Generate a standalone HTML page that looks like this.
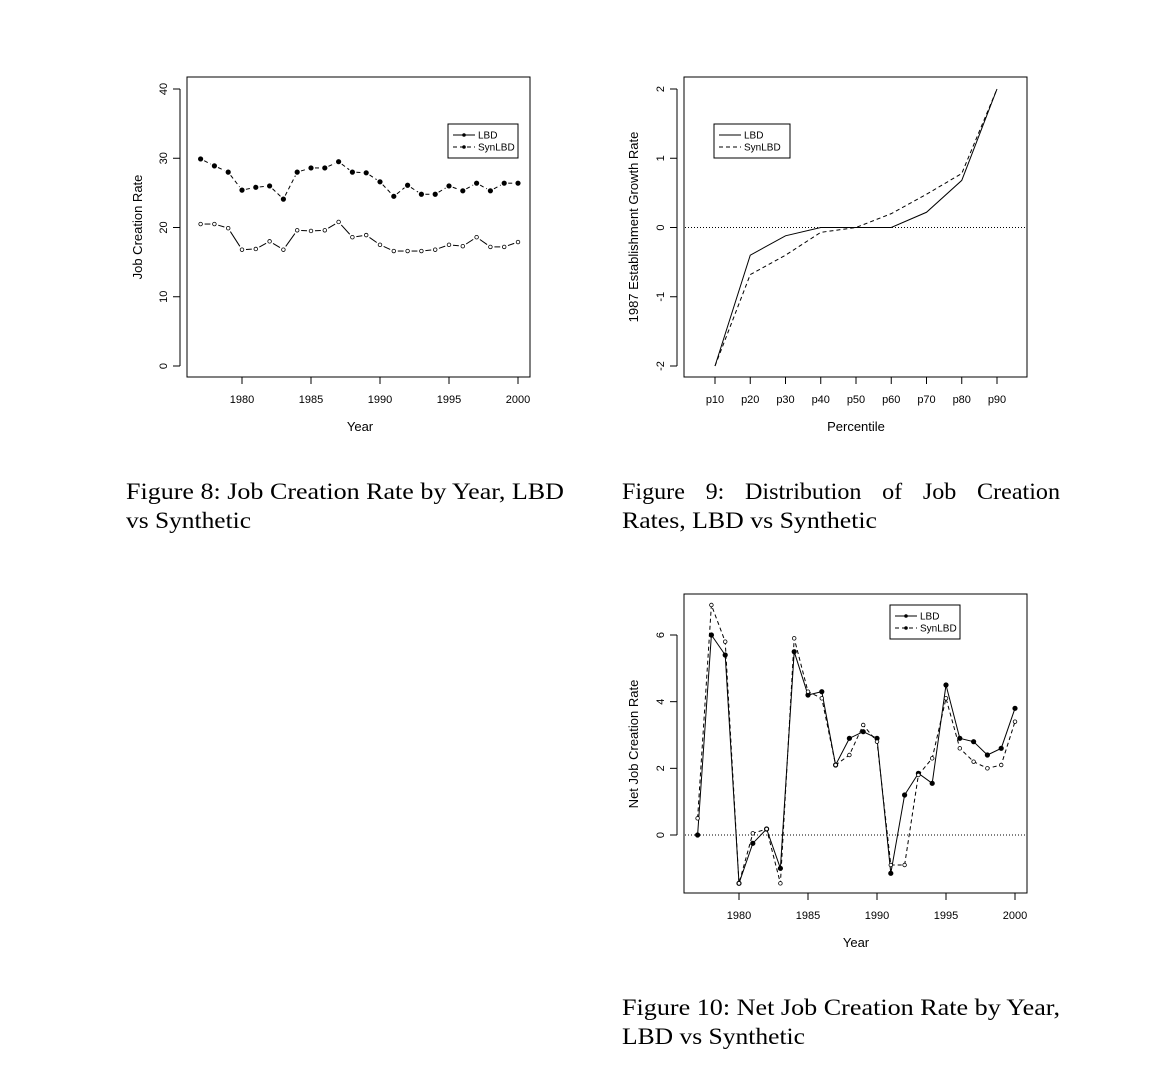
<!DOCTYPE html>
<html><head><meta charset="utf-8"><style>
html,body{margin:0;padding:0;background:#fff;}
svg{display:block;}
.cap{font-family:"Liberation Serif",serif;font-size:23px;fill:#000;}
.ax{font-family:"Liberation Sans",sans-serif;font-size:11px;fill:#000;}
.lab{font-family:"Liberation Sans",sans-serif;font-size:13px;fill:#000;}
</style></head><body>
<svg id="s" width="1164" height="1090" xmlns="http://www.w3.org/2000/svg">
<text class="cap" x="126" y="499" textLength="438" lengthAdjust="spacingAndGlyphs">Figure 8: Job Creation Rate by Year, LBD</text>
<text class="cap" x="126" y="528" textLength="125" lengthAdjust="spacingAndGlyphs">vs Synthetic</text>
<text class="cap" x="622" y="499" word-spacing="14" textLength="438" lengthAdjust="spacingAndGlyphs">Figure 9: Distribution of Job Creation</text>
<text class="cap" x="622" y="528" textLength="255" lengthAdjust="spacingAndGlyphs">Rates, LBD vs Synthetic</text>
<text class="cap" x="622" y="1015" textLength="438" lengthAdjust="spacingAndGlyphs">Figure 10: Net Job Creation Rate by Year,</text>
<text class="cap" x="622" y="1044" textLength="183" lengthAdjust="spacingAndGlyphs">LBD vs Synthetic</text>
</svg>
<script>
const years8 = [1977,1978,1979,1980,1981,1982,1983,1984,1985,1986,1987,1988,1989,1990,1991,1992,1993,1994,1995,1996,1997,1998,1999,2000];
const lbd8 = [29.9,28.9,28,25.4,25.8,26,24.1,28,28.6,28.6,29.5,28,27.9,26.6,24.5,26.1,24.8,24.8,26,25.3,26.4,25.3,26.4,26.4];
const syn8 = [20.5,20.5,19.9,16.8,16.9,18,16.8,19.6,19.5,19.6,20.8,18.6,18.9,17.5,16.6,16.6,16.6,16.8,17.5,17.3,18.6,17.2,17.2,17.9];
const yTicks8 = [0,10,20,30,40];
const xTicks8 = [1980,1985,1990,1995,2000];
const pct9 = ["p10","p20","p30","p40","p50","p60","p70","p80","p90"];
const lbd9 = [-2,-0.4,-0.12,0,0,0,0.22,0.68,2];
const syn9 = [-2,-0.68,-0.4,-0.07,0,0.2,0.48,0.78,2];
const yTicks9 = [-2,-1,0,1,2];
const years10 = years8;
const lbd10 = [0,6,5.4,-1.45,-0.25,0.18,-1.0,5.5,4.2,4.3,2.1,2.9,3.1,2.9,-1.15,1.2,1.85,1.55,4.5,2.9,2.8,2.4,2.6,3.8];
const syn10 = [0.5,6.9,5.8,-1.45,0.05,0.18,-1.45,5.9,4.3,4.1,2.1,2.4,3.3,2.8,-0.9,-0.9,1.8,2.3,4.1,2.6,2.2,2.0,2.1,3.4];
const yTicks10 = [0,2,4,6];

const NS="http://www.w3.org/2000/svg";
const svg=document.getElementById('s');
function mk(tag,attrs,parent){const e=document.createElementNS(NS,tag);for(const k in attrs)e.setAttribute(k,attrs[k]);(parent||svg).appendChild(e);return e;}
function lin(d0,d1,r0,r1){return v=>r0+(v-d0)*(r1-r0)/(d1-d0);}

function frame(g,x0,y0,x1,y1){
  const r=mk('rect',{x:x0,y:y0,width:x1-x0,height:y1-y0,fill:'none',stroke:'#000','stroke-width':1},g);
  
  
}
function yAxis(g,ticks,sy,x0,name){
  const ga=mk('g',{},g);
  
  
  mk('line',{x1:x0-7,x2:x0-7,y1:sy(ticks[0]),y2:sy(ticks[ticks.length-1]),stroke:'#000'},ga);
  ticks.forEach(t=>{
    mk('line',{x1:x0-7,x2:x0-14,y1:sy(t),y2:sy(t),stroke:'#000'},ga);
    const tx=mk('text',{class:'ax',x:x0-20,y:sy(t),'text-anchor':'middle',transform:`rotate(-90 ${x0-20} ${sy(t)})`},ga);
    tx.textContent=String(t);
    
    
  });
}
function xAxis(g,ticks,labels,sx,y1,name){
  const ga=mk('g',{},g);
  
  
  mk('line',{x1:sx(ticks[0]),x2:sx(ticks[ticks.length-1]),y1:y1,y2:y1,stroke:'#000'},ga);
  ticks.forEach((t,i)=>{
    mk('line',{x1:sx(t),x2:sx(t),y1:y1,y2:y1+7,stroke:'#000'},ga);
    const tx=mk('text',{class:'ax',x:sx(t),y:y1+26,'text-anchor':'middle'},ga);
    tx.textContent=labels[i];
    
    
  });
}
function labels(g,xl,xx,xy,yl,yx,yy){
  const a=mk('text',{class:'lab',x:xx,y:xy,'text-anchor':'middle'},g);a.textContent=xl;
  
  
  const b=mk('text',{class:'lab',x:yx,y:yy,'text-anchor':'middle',transform:`rotate(-90 ${yx} ${yy})`},g);b.textContent=yl;
  
  
}
function seriesB(g,xs,ys,sx,sy,dash,filled,name){
  const gs=mk('g',{},g);
  
  
  for(let i=0;i<xs.length-1;i++){
    const x1=sx(xs[i]),y1=sy(ys[i]),x2=sx(xs[i+1]),y2=sy(ys[i+1]);
    const dx=x2-x1,dy=y2-y1,L=Math.hypot(dx,dy),gap=4;
    if(L>2*gap){mk('line',{x1:x1+dx*gap/L,y1:y1+dy*gap/L,x2:x2-dx*gap/L,y2:y2-dy*gap/L,stroke:'#000','stroke-width':1,'stroke-dasharray':dash},gs);}
  }
  xs.forEach((x,i)=>{
    const c=mk('circle',{cx:sx(x),cy:sy(ys[i]),r:filled?2.2:1.8,fill:filled?'#000':'#fff',stroke:'#000','stroke-width':0.8},gs);
    
    
  });
}
function seriesL(g,xs,ys,sx,sy,dash,pts,filled,name){
  const gs=mk('g',{},g);
  
  
  mk('polyline',{points:xs.map((x,i)=>sx(x)+','+sy(ys[i])).join(' '),fill:'none',stroke:'#000','stroke-width':1,'stroke-dasharray':dash},gs);
  if(pts)xs.forEach((x,i)=>{
    const c=mk('circle',{cx:sx(x),cy:sy(ys[i]),r:filled?2.2:1.8,fill:filled?'#000':'#fff',stroke:'#000','stroke-width':0.8},gs);
    
    
  });
}
function legend(g,x,y,w,pts){
  const gl=mk('g',{},g);
  
  
  mk('rect',{x:x,y:y,width:w,height:34,fill:'#fff',stroke:'#000'},gl);
  [['LBD','none',true],['SynLBD','4,3',false]].forEach((e,i)=>{
    const yy=y+11+i*12;
    const ge=mk('g',{},gl);
    
    
    mk('line',{x1:x+5,x2:x+27,y1:yy,y2:yy,stroke:'#000','stroke-dasharray':e[1]},ge);
    if(pts)mk('circle',{cx:x+16,cy:yy,r:1.8,fill:'#000'},ge);
    const t=mk('text',{x:x+30,y:yy+3.5,'font-family':'Liberation Sans,sans-serif','font-size':'10px'},ge);t.textContent=e[0];
  });
}

{const g=mk('g',{});
 const sx=lin(1980,2000,242,518),sy=lin(0,40,366,89);
 frame(g,187,77,530,377);
 yAxis(g,yTicks8,sy,187,'y-axis');
 xAxis(g,xTicks8,xTicks8.map(String),sx,377,'x-axis');
 labels(g,'Year',360,431,'Job Creation Rate',142,227);
 seriesB(g,years8,lbd8,sx,sy,'4,3',true,'series-lbd');
 seriesB(g,years8,syn8,sx,sy,'none',false,'series-synlbd');
 legend(g,448,124,70,true);}
{const g=mk('g',{});
 const idx=pct9.map((p,i)=>i);
 const sx=lin(0,8,715,997),sy=lin(-2,2,366,89);
 frame(g,684,77,1027,377);
 yAxis(g,yTicks9,sy,684,'y-axis');
 xAxis(g,idx,pct9,sx,377,'x-axis');
 labels(g,'Percentile',856,431,'1987 Establishment Growth Rate',638,227);
 mk('line',{x1:685,x2:1026,y1:sy(0),y2:sy(0),stroke:'#000','stroke-dasharray':'1,2'},g);
 seriesL(g,idx,lbd9,sx,sy,'none',false,false,'series-lbd');
 seriesL(g,idx,syn9,sx,sy,'4,3',false,false,'series-synlbd');
 legend(g,714,124,76,false);}
{const g=mk('g',{});
 const sx=lin(1980,2000,739,1015),sy=lin(0,6,835,635);
 frame(g,684,594,1027,893);
 yAxis(g,yTicks10,sy,684,'y-axis');
 xAxis(g,xTicks8,xTicks8.map(String),sx,893,'x-axis');
 labels(g,'Year',856,947,'Net Job Creation Rate',638,744);
 mk('line',{x1:685,x2:1026,y1:sy(0),y2:sy(0),stroke:'#000','stroke-dasharray':'1,2'},g);
 seriesL(g,years10,lbd10,sx,sy,'none',true,true,'series-lbd');
 seriesL(g,years10,syn10,sx,sy,'4,3',true,false,'series-synlbd');
 legend(g,890,605,70,true);}
</script>
</body></html>
